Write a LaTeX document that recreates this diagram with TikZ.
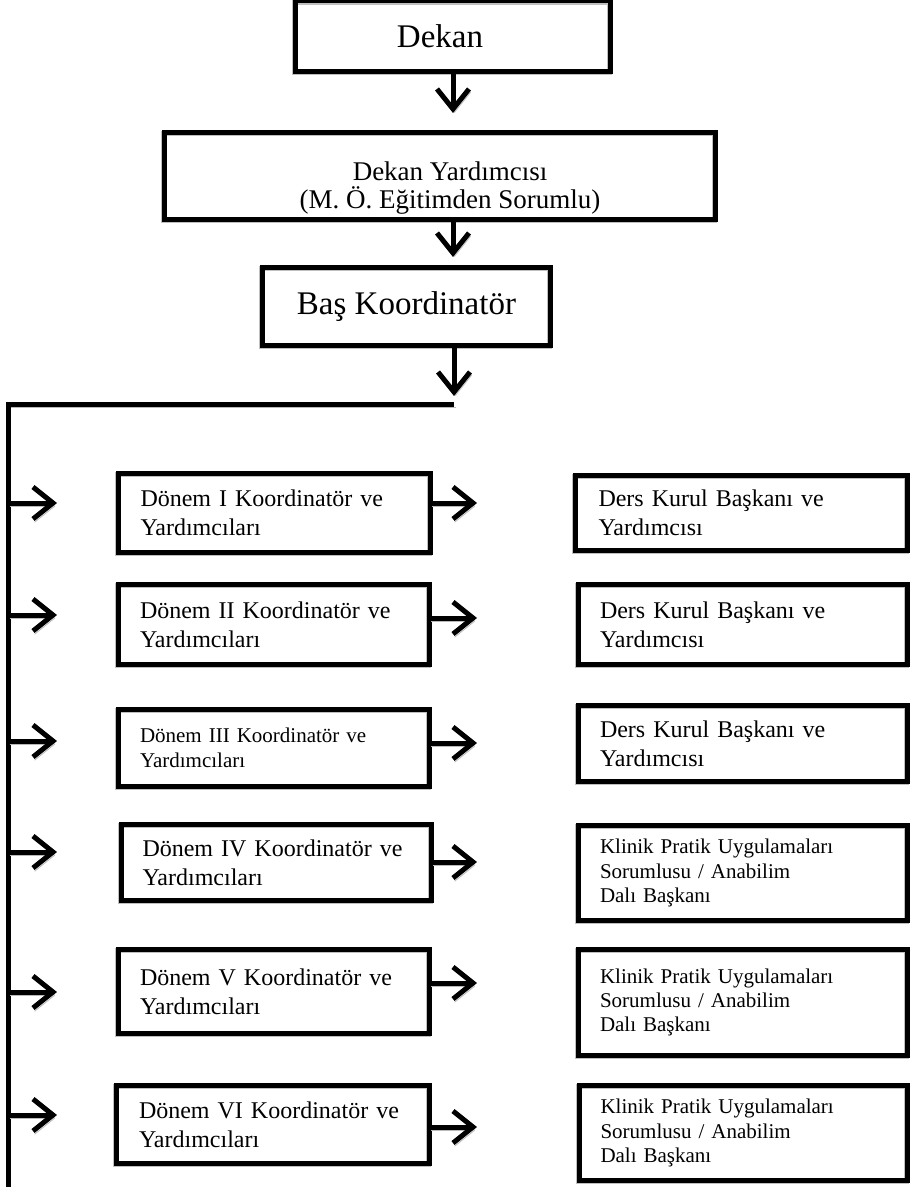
\documentclass[tikz,border=0pt]{standalone}
\usepackage{fontspec}
\setmainfont{Liberation Serif}
\usetikzlibrary{arrows.meta, positioning}
\tikzset{
  topbox/.style={rectangle, draw=black, line width=2.5pt, outer sep=0pt, inner sep=0pt, anchor=north west, align=center, preaction={draw=gray!50, transform canvas={shift={(-0.6pt,-0.6pt)}}}},
  leftbox/.style={rectangle, draw=black, line width=2.5pt, outer sep=0pt, inner xsep=10.5pt, inner ysep=0pt, anchor=north west, text width=134pt, align=left, font=\fontsize{12}{14.5}\selectfont, preaction={draw=gray!50, transform canvas={shift={(-0.6pt,-0.6pt)}}}},
  rightbox/.style={rectangle, draw=black, line width=2.5pt, outer sep=0pt, inner xsep=10.5pt, inner ysep=0pt, anchor=north west, text width=143pt, align=left, font=\fontsize{12}{14.5}\selectfont, preaction={draw=gray!50, transform canvas={shift={(-0.6pt,-0.6pt)}}}},
  smalltext/.style={font=\fontsize{10.5}{12.2}\selectfont},
  arrow/.style={line width=2.5pt, -{Straight Barb[length=10pt, width=16pt, line width=2.5pt]}, preaction={draw=gray!55, transform canvas={shift={(0.8pt,-1.6pt)}}}},
  trunk/.style={line width=2.5pt, preaction={draw=gray!55, transform canvas={shift={(0.8pt,-1.6pt)}}}}
}
\begin{document}
\begin{tikzpicture}[x=0.5pt, y=-0.5pt]
\useasboundingbox (0,0) rectangle (912,1187);

% top of the chart
\node[topbox, minimum width=157.5pt, minimum height=35.25pt, font=\fontsize{16.5}{19}\selectfont] (dekan) at (295.5,1) {Dekan\hspace*{13pt}};
\node[topbox, minimum width=275.5pt, minimum height=43.5pt, font=\fontsize{13.5}{14}\selectfont] (yrd) at (164.5,132.5) {\hspace*{10pt}\rule{0pt}{21pt}Dekan Yardımcısı\\\hspace*{10pt}(M. Ö. Eğitimden Sorumlu)};
\node[topbox, minimum width=144pt, minimum height=39pt, font=\fontsize{16.5}{19}\selectfont] (bas) at (262.5,267.5) {Baş Koordinatör};

\coordinate (tip1) at (453,113);
\coordinate (tip2) at (453,257);
\coordinate (tip3) at (454,396);
\draw[arrow] (dekan.south -| tip1) -- (tip1);
\draw[arrow] (yrd.south -| tip2) -- (tip2);
\draw[arrow] (bas.south -| tip3) -- (tip3);

% trunk line
\coordinate (hub) at (454,404);
\coordinate (corner) at (8,404);
\coordinate (foot) at (8,1192);
\draw[trunk] (hub) -- (corner) -- (foot);

% left column
\node[leftbox, minimum width=156pt, minimum height=39.5pt] (d1) at (118.5,473.5) {Dönem I Koordinatör ve\\Yardımcıları};
\node[leftbox, minimum width=155.5pt, minimum height=40pt] (d2) at (118.5,584.5) {Dönem II Koordinatör ve\\Yardımcıları};
\node[leftbox, smalltext, minimum width=155.5pt, minimum height=38.5pt] (d3) at (118.5,709.5) {Dönem III Koordinatör ve\\Yardımcıları};
\node[leftbox, minimum width=154pt, minimum height=38pt] (d4) at (121.5,824.5) {Dönem IV Koordinatör ve\\Yardımcıları};
\node[leftbox, minimum width=155.5pt, minimum height=42pt] (d5) at (118.5,949.5) {Dönem V Koordinatör ve\\Yardımcıları};
\node[leftbox, minimum width=156.5pt, minimum height=39pt] (d6) at (116.5,1085.5) {Dönem VI Koordinatör ve\\Yardımcıları};

% right column
\node[rightbox, minimum width=166pt, minimum height=37.5pt] (r1) at (575.5,475.5) {Ders Kurul Başkanı ve\\Yardımcısı};
\node[rightbox, minimum width=164.5pt, minimum height=40pt] (r2) at (578.5,584.5) {Ders Kurul Başkanı ve\\Yardımcısı};
\node[rightbox, minimum width=164.5pt, minimum height=38pt] (r3) at (578.5,705.5) {Ders Kurul Başkanı ve\\Yardımcısı};
\node[rightbox, smalltext, minimum width=164.5pt, minimum height=47.5pt] (r4) at (578.5,825.5) {Klinik Pratik Uygulamaları\\Sorumlusu / Anabilim\\Dalı Başkanı};
\node[rightbox, smalltext, minimum width=164.5pt, minimum height=53pt] (r5) at (578.5,949.5) {Klinik Pratik Uygulamaları\\Sorumlusu / Anabilim\\Dalı Başkanı};
\node[rightbox, smalltext, minimum width=164pt, minimum height=47.5pt] (r6) at (579.5,1085.5) {Klinik Pratik Uygulamaları\\Sorumlusu / Anabilim\\Dalı Başkanı};

% arrows from the trunk
\coordinate (l1) at (57,503);
\coordinate (l2) at (57,615);
\coordinate (l3) at (57,741);
\coordinate (l4) at (57,852);
\coordinate (l5) at (57,992);
\coordinate (l6) at (57,1115);
\draw[arrow] (corner |- l1) -- (l1);
\draw[arrow] (corner |- l2) -- (l2);
\draw[arrow] (corner |- l3) -- (l3);
\draw[arrow] (corner |- l4) -- (l4);
\draw[arrow] (corner |- l5) -- (l5);
\draw[arrow] (corner |- l6) -- (l6);

% arrows between the columns
\coordinate (m1) at (477,503);
\coordinate (m2) at (477,618);
\coordinate (m3) at (477,743);
\coordinate (m4) at (477,862);
\coordinate (m5) at (477,983);
\coordinate (m6) at (477,1127);
\draw[arrow] (d1.east |- m1) -- (m1);
\draw[arrow] (d2.east |- m2) -- (m2);
\draw[arrow] (d3.east |- m3) -- (m3);
\draw[arrow] (d4.east |- m4) -- (m4);
\draw[arrow] (d5.east |- m5) -- (m5);
\draw[arrow] (d6.east |- m6) -- (m6);
\end{tikzpicture}
\end{document}
